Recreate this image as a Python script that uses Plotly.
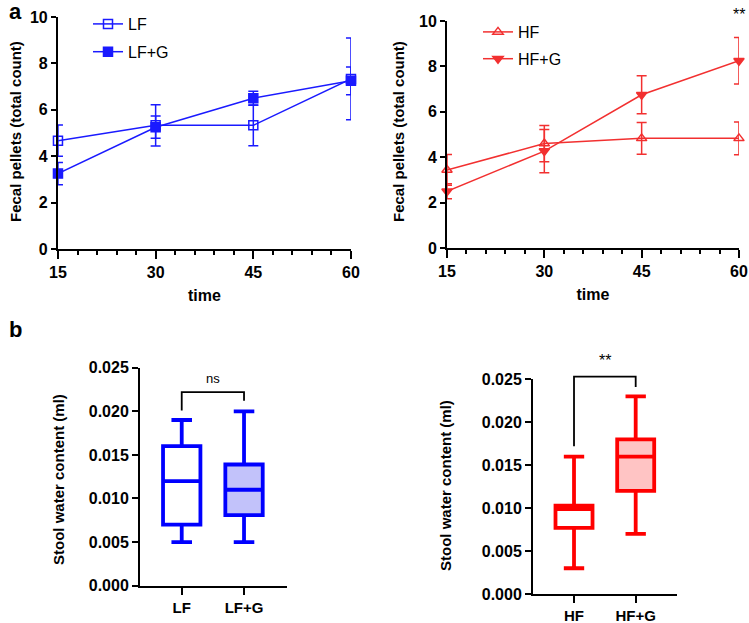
import plotly.graph_objects as go

# panel a: fecal pellets over time (mean, error)
times = [15, 30, 45, 60]
lf_mean = [4.67, 5.33, 5.33, 7.33]
lf_err = [0.67, 0.89, 0.88, 1.76]
lfg_mean = [3.25, 5.25, 6.5, 7.25]
lfg_err = [0.48, 0.48, 0.3, 0.6]
hf_mean = [3.44, 4.6, 4.83, 4.83]
hf_err = [0.68, 0.8, 0.7, 0.72]
hfg_mean = [2.5, 4.27, 6.75, 8.25]
hfg_err = [0.33, 0.95, 0.84, 1.02]

# panel b: stool water content box stats
lf_groups = ["LF", "LF+G"]
lf_low = [0.005, 0.005]
lf_q1 = [0.007, 0.0081]
lf_med = [0.012, 0.011]
lf_q3 = [0.016, 0.0139]
lf_high = [0.019, 0.020]

hf_groups = ["HF", "HF+G"]
hf_low = [0.003, 0.007]
hf_q1 = [0.0077, 0.012]
hf_med = [0.0099, 0.016]
hf_q3 = [0.0103, 0.018]
hf_high = [0.016, 0.023]

BLUE = "#1a1aff"
RED = "#f23030"
FONT = "Liberation Sans"

fig = go.Figure()

def line_trace(y, err, name, color, symbol, xa, ya, legend):
    return go.Scatter(
        x=times, y=y, name=name, mode="lines+markers",
        line=dict(color=color, width=1.5),
        marker=dict(symbol=symbol, size=9, color=color, line=dict(color=color, width=1.5)),
        error_y=dict(type="data", array=err, color=color, thickness=1.5, width=5),
        xaxis=xa, yaxis=ya, legend=legend, legendgroup=name, cliponaxis=False,
    )

fig.add_trace(line_trace(lf_mean, lf_err, "LF", BLUE, "square-open", "x", "y", "legend"))
fig.add_trace(line_trace(lfg_mean, lfg_err, "LF+G", BLUE, "square", "x", "y", "legend"))
fig.add_trace(line_trace(hf_mean, hf_err, "HF", RED, "triangle-up-open", "x2", "y2", "legend2"))
fig.add_trace(line_trace(hfg_mean, hfg_err, "HF+G", RED, "triangle-down", "x2", "y2", "legend2"))

def box_trace(groups, i, low, q1, med, q3, high, color, fill, xa, ya):
    return go.Box(
        x=[groups[i]], lowerfence=[low[i]], q1=[q1[i]], median=[med[i]],
        q3=[q3[i]], upperfence=[high[i]],
        line=dict(color=color, width=3.8), fillcolor=fill,
        width=0.6, whiskerwidth=0.55, showlegend=False,
        xaxis=xa, yaxis=ya, boxpoints=False,
    )

fig.add_trace(box_trace(lf_groups, 0, lf_low, lf_q1, lf_med, lf_q3, lf_high, "#0000ff", "white", "x3", "y3"))
fig.add_trace(box_trace(lf_groups, 1, lf_low, lf_q1, lf_med, lf_q3, lf_high, "#0000ff", "#c2c2fa", "x3", "y3"))
fig.add_trace(box_trace(hf_groups, 0, hf_low, hf_q1, hf_med, hf_q3, hf_high, "#ff0000", "white", "x4", "y4"))
fig.add_trace(box_trace(hf_groups, 1, hf_low, hf_q1, hf_med, hf_q3, hf_high, "#ff0000", "#ffc4c4", "x4", "y4"))

tickf = dict(family=FONT, size=16, color="black", weight="bold")
base_axis = dict(showline=True, linecolor="black", linewidth=2, ticks="outside",
                 tickcolor="black", tickwidth=2, showgrid=False, zeroline=False,
                 tickfont=tickf, automargin=False)

time_axis = dict(base_axis, range=[15, 60], tickvals=times, ticklen=8,
                 minor=dict(dtick=3, tick0=15, ticks="outside", ticklen=4, tickwidth=1.5, tickcolor="black"),
                 title=dict(text="time", font=tickf, standoff=10))
count_axis = dict(base_axis, range=[0, 10], dtick=2, ticklen=5)
water_axis = dict(base_axis, range=[0, 0.025], dtick=0.005, tickformat=".3f", ticklen=6)
group_axis = dict(base_axis, ticklen=7, tickfont=dict(tickf, size=15))

fig.update_layout(
    width=749, height=623, margin=dict(l=0, r=0, t=0, b=0, autoexpand=False),
    plot_bgcolor="white", paper_bgcolor="white",
    font=dict(family=FONT, color="black"),
    xaxis=dict(time_axis, domain=[0.0774, 0.4686], anchor="y"),
    yaxis=dict(count_axis, domain=[0.6003, 0.9727], anchor="x"),
    xaxis2=dict(time_axis, domain=[0.5968, 0.9866], anchor="y2"),
    yaxis2=dict(count_axis, domain=[0.6019, 0.9663], anchor="x2"),
    xaxis3=dict(group_axis, domain=[0.1869, 0.3832], anchor="y3", range=[-0.67, 1.69]),
    yaxis3=dict(water_axis, domain=[0.0599, 0.4098], anchor="x3"),
    xaxis4=dict(group_axis, domain=[0.7116, 0.9039], anchor="y4", range=[-0.665, 1.67]),
    yaxis4=dict(water_axis, domain=[0.0465, 0.3912], anchor="x4"),
    legend=dict(x=88 / 749, y=1 - 7 / 623, xanchor="left", yanchor="top",
                font=dict(family=FONT, size=16, color="black"), bgcolor="rgba(0,0,0,0)",
                tracegroupgap=4),
    legend2=dict(x=478 / 749, y=1 - 15 / 623, xanchor="left", yanchor="top",
                 font=dict(family=FONT, size=16, color="black"), bgcolor="rgba(0,0,0,0)",
                 tracegroupgap=3),
)

ann = [
    dict(text="<b>a</b>", x=15 / 749, y=1 - 12 / 623, font=dict(size=22)),
    dict(text="<b>b</b>", x=15 / 749, y=1 - 330 / 623, font=dict(size=22)),
    dict(text="<b>Fecal pellets (total count)</b>", x=15 / 749, y=1 - 132 / 623, textangle=-90, font=dict(size=15)),
    dict(text="<b>Fecal pellets (total count)</b>", x=398 / 749, y=1 - 132 / 623, textangle=-90, font=dict(size=15)),
    dict(text="<b>Stool water content (ml)</b>", x=58 / 749, y=1 - 480 / 623, textangle=-90, font=dict(size=15)),
    dict(text="<b>Stool water content (ml)</b>", x=445 / 749, y=1 - 486 / 623, textangle=-90, font=dict(size=15)),
]
for a in ann:
    fig.add_annotation(a, xref="paper", yref="paper", showarrow=False, xanchor="center", yanchor="middle")

# significance marks (domain refs so they are drawn above the axis range)
sig = [
    dict(text="**", x=60, y=10.3 / 10, xref="x2", yref="y2 domain", font=dict(size=16)),
    dict(text="ns", x=0.5, y=0.0238 / 0.025, xref="x3", yref="y3 domain", font=dict(size=13)),
    dict(text="**", x=0.5, y=0.0272 / 0.025, xref="x4", yref="y4 domain", font=dict(size=16)),
]
for a in sig:
    fig.add_annotation(a, showarrow=False, xanchor="center", yanchor="middle")


def bracket(xa, ya, ymax, left_bottom, top, right_bottom):
    pts = [(0, left_bottom), (0, top), (1, top), (1, right_bottom)]
    path = "M " + " L ".join(f"{x},{y / ymax}" for x, y in pts)
    fig.add_shape(type="path", path=path, xref=xa, yref=ya + " domain",
                  line=dict(color="black", width=1.8))


bracket("x3", "y3", 0.025, 0.0201, 0.0222, 0.0212)
bracket("x4", "y4", 0.025, 0.0172, 0.0253, 0.0241)

fig.write_html("out.html", config={"displayModeBar": False},
               post_script="document.body.style.margin='0';")
